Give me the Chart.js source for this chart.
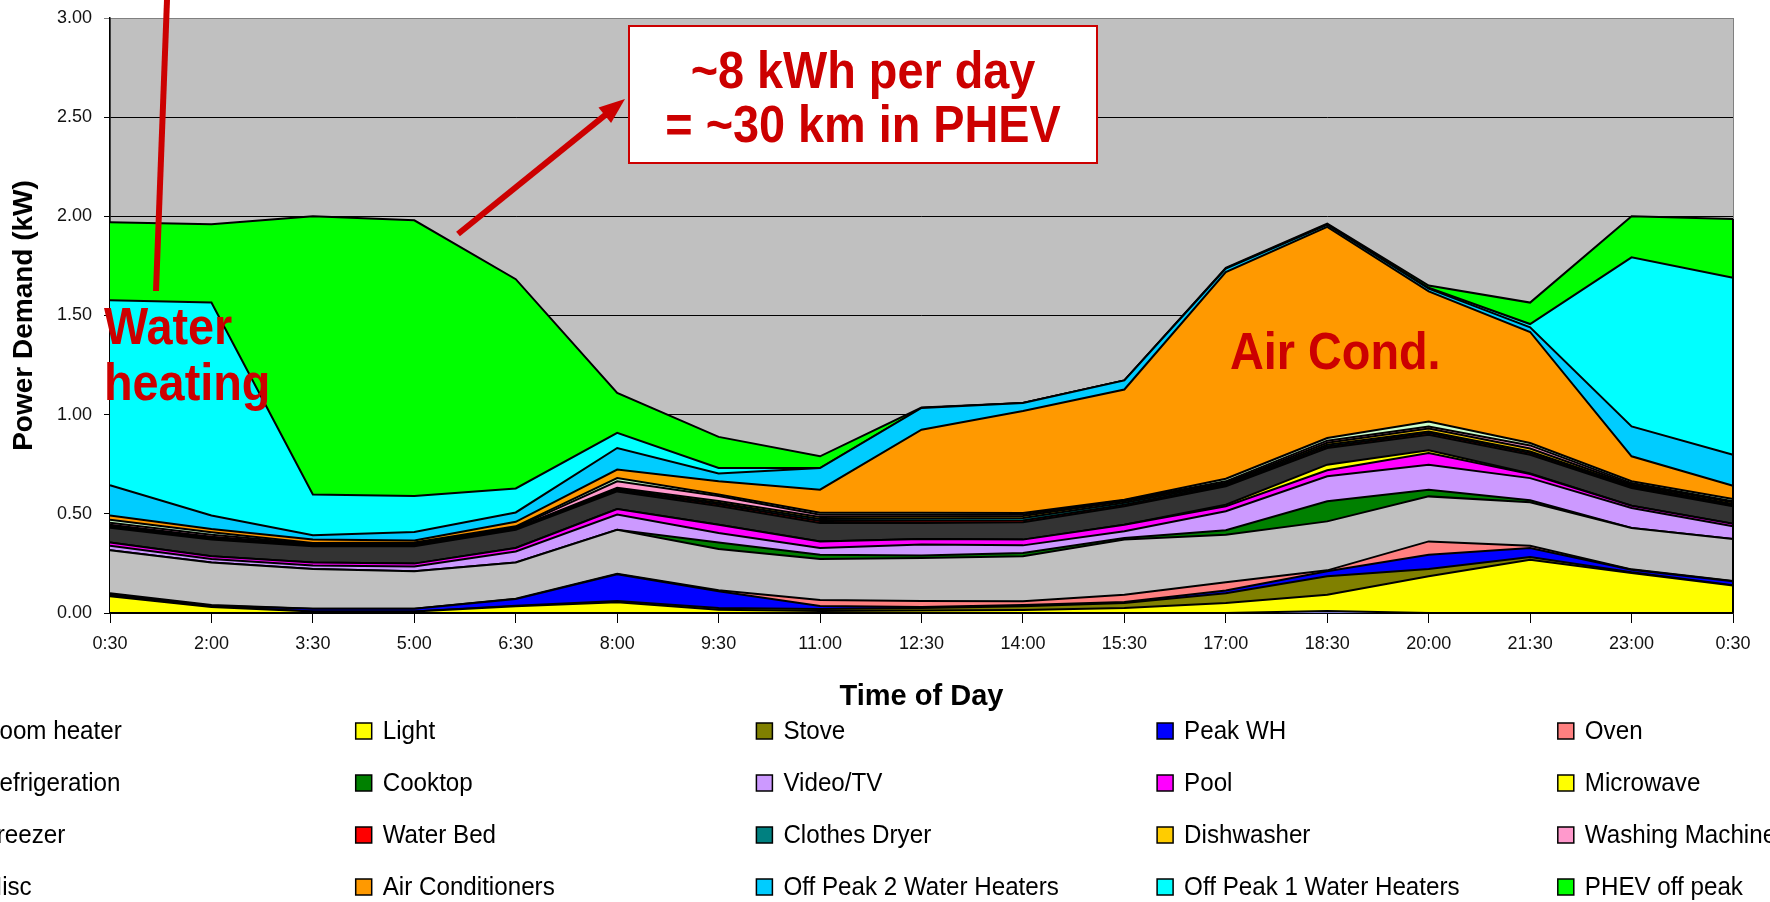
<!DOCTYPE html>
<html>
<head>
<meta charset="utf-8">
<script src="https://cdn.jsdelivr.net/npm/chart.js@4.4.1/dist/chart.umd.min.js"></script>
<style>
  html, body { margin: 0; padding: 0; background: #fff; }
  canvas { display: block; }
</style>
</head>
<body>
<canvas id="myChart" width="1770" height="902"></canvas>
<script>
// time of day (every 1.5 h)
const horas = ["0:30", "2:00", "3:30", "5:00", "6:30", "8:00", "9:30", "11:00", "12:30",
  "14:00", "15:30", "17:00", "18:30", "20:00", "21:30", "23:00", "0:30"];

const yTicks = [0, 0.5, 1.0, 1.5, 2.0, 2.5, 3.0];

// demand per appliance (kW), stacked bottom -> top
const roomHeater = [0, 0, 0, 0, 0, 0, 0, 0, 0, 0, 0, 0, 0.01, 0, 0, 0, 0];
const light = [0.085, 0.03, 0.008, 0.008, 0.034, 0.054, 0.017, 0.01, 0.012, 0.015, 0.025, 0.05, 0.082, 0.185, 0.269, 0.202, 0.138];
const stove = [0.005, 0.003, 0, 0, 0.002, 0.006, 0.008, 0.01, 0.013, 0.019, 0.025, 0.05, 0.093, 0.037, 0.013, 0.003, 0.002];
const peakWH = [0.005, 0.004, 0.014, 0.014, 0.034, 0.135, 0.085, 0.015, 0.005, 0.006, 0.005, 0.014, 0.025, 0.072, 0.046, 0.013, 0.02];
const oven = [0.005, 0.003, 0, 0, 0.002, 0.003, 0.005, 0.03, 0.03, 0.019, 0.037, 0.041, 0.005, 0.067, 0.011, 0.002, 0.002];
const refrigeration = [0.216, 0.215, 0.2, 0.188, 0.183, 0.222, 0.208, 0.207, 0.217, 0.227, 0.278, 0.24, 0.247, 0.227, 0.219, 0.209, 0.211];
const cooktop = [0, 0, 0, 0, 0, 0, 0.033, 0.022, 0.013, 0.017, 0.008, 0.022, 0.101, 0.034, 0.01, 0, 0];
const videoTV = [0.023, 0.017, 0.018, 0.025, 0.055, 0.076, 0.047, 0.034, 0.055, 0.038, 0.034, 0.096, 0.126, 0.126, 0.112, 0.1, 0.064];
const pool = [0.017, 0.014, 0.015, 0.014, 0.018, 0.028, 0.042, 0.033, 0.028, 0.029, 0.033, 0.025, 0.031, 0.059, 0.021, 0.012, 0.013];
const microwave = [0, 0, 0, 0, 0, 0, 0, 0, 0, 0, 0, 0.008, 0.028, 0.013, 0.002, 0, 0];
const freezer = [0.074, 0.084, 0.081, 0.087, 0.092, 0.089, 0.095, 0.093, 0.081, 0.087, 0.093, 0.093, 0.084, 0.079, 0.095, 0.089, 0.088];
const waterBed = [0.005, 0.005, 0.003, 0.004, 0.003, 0.006, 0.008, 0.01, 0.011, 0.01, 0.008, 0.006, 0.008, 0.008, 0.008, 0.006, 0.006];
const clothesDryer = [0.005, 0.005, 0.003, 0.004, 0.003, 0.006, 0.008, 0.01, 0.011, 0.012, 0.01, 0.006, 0.008, 0.008, 0.008, 0.006, 0.006];
const dishwasher = [0.005, 0.005, 0.003, 0.004, 0.003, 0.006, 0.009, 0.01, 0.011, 0.01, 0.008, 0.006, 0.01, 0.015, 0.015, 0.006, 0.008];
const washingMachine = [0.01, 0.01, 0.004, 0.004, 0.003, 0.033, 0.025, 0.012, 0.009, 0.008, 0.004, 0.007, 0.011, 0.01, 0.016, 0.007, 0.005];
const misc = [0.015, 0.012, 0.004, 0.004, 0.005, 0.016, 0.007, 0.009, 0.009, 0.007, 0.003, 0.013, 0.013, 0.026, 0.012, 0.009, 0.012];
const airConditioners = [0.022, 0.017, 0.017, 0.01, 0.023, 0.043, 0.067, 0.117, 0.419, 0.515, 0.556, 1.042, 1.065, 0.656, 0.56, 0.126, 0.067];
const offPeak2 = [0.152, 0.068, 0.022, 0.042, 0.047, 0.109, 0.039, 0.109, 0.11, 0.04, 0.046, 0.017, 0.01, 0.013, 0.023, 0.151, 0.156];
const offPeak1 = [0.933, 1.073, 0.206, 0.182, 0.121, 0.076, 0.028, 0, 0, 0, 0, 0, 0.003, 0.005, 0.017, 0.852, 0.892];
const phevOffPeak = [0.393, 0.395, 1.402, 1.39, 1.055, 0.202, 0.157, 0.059, 0.002, 0, 0, 0.004, 0.003, 0.011, 0.108, 0.207, 0.297];

const series = [
  ["Room heater", roomHeater, "#9999FF"],
  ["Light", light, "#FFFF00"],
  ["Stove", stove, "#808000"],
  ["Peak WH", peakWH, "#0000FF"],
  ["Oven", oven, "#FF8080"],
  ["Refrigeration", refrigeration, "#C0C0C0"],
  ["Cooktop", cooktop, "#008000"],
  ["Video/TV", videoTV, "#CC99FF"],
  ["Pool", pool, "#FF00FF"],
  ["Microwave", microwave, "#FFFF00"],
  ["Freezer", freezer, "#333333"],
  ["Water Bed", waterBed, "#FF0000"],
  ["Clothes Dryer", clothesDryer, "#008080"],
  ["Dishwasher", dishwasher, "#FFCC00"],
  ["Washing Machine", washingMachine, "#FF99CC"],
  ["Misc", misc, "#CCFFCC"],
  ["Air Conditioners", airConditioners, "#FF9900"],
  ["Off Peak 2 Water Heaters", offPeak2, "#00CCFF"],
  ["Off Peak 1 Water Heaters", offPeak1, "#00FFFF"],
  ["PHEV off peak", phevOffPeak, "#00FF00"],
];

const FONT = "'Liberation Sans', Arial, sans-serif";
const ROJO = "#CC0000";

// fondo gris del area de trazado
const plotBg = {
  id: "plotBg",
  beforeDraw(chart) {
    const { ctx, chartArea: a } = chart;
    ctx.save();
    ctx.fillStyle = "#C0C0C0";
    ctx.fillRect(a.left, a.top, a.right - a.left, a.bottom - a.top);
    ctx.strokeStyle = "#808080";
    ctx.lineWidth = 1;
    ctx.strokeRect(a.left + 0.5, a.top + 0.5, a.right - a.left, a.bottom - a.top);
    ctx.restore();
  },
  afterDatasetsDraw(chart) {
    // black right edge of the stacked areas
    const { ctx, chartArea: a, scales: { y } } = chart;
    const last = horas.length - 1;
    let total = 0;
    series.forEach((s) => (total += s[1][last]));
    ctx.save();
    ctx.strokeStyle = "#000";
    ctx.lineWidth = 2;
    ctx.beginPath();
    ctx.moveTo(a.right, y.getPixelForValue(total));
    ctx.lineTo(a.right, a.bottom);
    ctx.stroke();
    ctx.restore();
  },
};

// leyenda en 5 columnas x 4 filas (recortada a los lados como el original)
const legendGrid = {
  id: "legendGrid",
  afterDraw(chart) {
    const { ctx } = chart;
    const colX = -45, colStep = 400.7, rowY = 731, rowStep = 52;
    ctx.save();
    chart.data.datasets.forEach((ds, i) => {
      const col = i % 5;
      const row = Math.floor(i / 5);
      const x = colX + col * colStep;
      const yc = rowY + row * rowStep;
      ctx.fillStyle = ds.backgroundColor;
      ctx.fillRect(x, yc - 8, 16, 16);
      ctx.strokeStyle = "#000";
      ctx.lineWidth = 1.5;
      ctx.strokeRect(x, yc - 8, 16, 16);
      ctx.save();
      ctx.translate(x + 27, yc);
      ctx.scale(0.93, 1);
      ctx.fillStyle = "#000";
      ctx.font = "26px " + FONT;
      ctx.textBaseline = "middle";
      ctx.textAlign = "left";
      ctx.fillText(ds.label, 0, 1);
      ctx.restore();
    });
    ctx.restore();
  },
};

function textoComprimido(ctx, txt, x, y, align) {
  ctx.save();
  ctx.translate(x, y);
  ctx.scale(0.9, 1);
  ctx.textAlign = align;
  ctx.fillText(txt, 0, 0);
  ctx.restore();
}

// anotaciones rojas
const notas = {
  id: "notas",
  afterDraw(chart) {
    const { ctx } = chart;
    ctx.save();
    ctx.strokeStyle = ROJO;
    ctx.fillStyle = ROJO;
    ctx.lineCap = "butt";

    // linea hacia "Water heating"
    ctx.lineWidth = 6;
    ctx.beginPath();
    ctx.moveTo(167, 0);
    ctx.lineTo(156, 291);
    ctx.stroke();

    // flecha hacia el recuadro
    const x1 = 458, y1 = 234, x2 = 625, y2 = 99;
    const ang = Math.atan2(y2 - y1, x2 - x1);
    const head = 26;
    ctx.beginPath();
    ctx.moveTo(x1, y1);
    ctx.lineTo(x2 - head * 0.8 * Math.cos(ang), y2 - head * 0.8 * Math.sin(ang));
    ctx.stroke();
    ctx.beginPath();
    ctx.moveTo(x2, y2);
    ctx.lineTo(x2 - head * Math.cos(ang) + 10 * Math.sin(ang), y2 - head * Math.sin(ang) - 10 * Math.cos(ang));
    ctx.lineTo(x2 - head * Math.cos(ang) - 10 * Math.sin(ang), y2 - head * Math.sin(ang) + 10 * Math.cos(ang));
    ctx.closePath();
    ctx.fill();

    // recuadro
    ctx.fillStyle = "#fff";
    ctx.fillRect(629, 26, 468, 137);
    ctx.lineWidth = 2;
    ctx.strokeRect(629, 26, 468, 137);

    ctx.fillStyle = ROJO;
    ctx.font = "bold 52px " + FONT;
    ctx.textBaseline = "alphabetic";
    textoComprimido(ctx, "~8 kWh per day", 863, 88, "center");
    textoComprimido(ctx, "= ~30 km in PHEV", 863, 142, "center");

    textoComprimido(ctx, "Water", 104, 344, "left");
    textoComprimido(ctx, "heating", 104, 400, "left");
    textoComprimido(ctx, "Air Cond.", 1230, 369, "left");
    ctx.restore();
  },
};

const datasets = series.map(([label, data, color], i) => ({
  label,
  data,
  backgroundColor: color,
  borderColor: "#000",
  borderWidth: 2,
  fill: i === 0 ? "origin" : "-1",
  pointRadius: 0,
  pointHoverRadius: 0,
  tension: 0,
}));

const config = {
  type: "line",
  data: { labels: horas, datasets },
  options: {
    responsive: false,
    animation: false,
    events: [],
    layout: { padding: { top: 18, right: 37, left: 0, bottom: 0 } },
    plugins: {
      legend: { display: false },
      tooltip: { enabled: false },
      filler: { propagate: false },
    },
    scales: {
      x: {
        offset: false,
        grid: { display: true, drawOnChartArea: false, drawTicks: true, tickLength: 10, color: "#000", lineWidth: 1 },
        border: { display: true, color: "#000", width: 1.5 },
        ticks: { color: "#111", font: { family: FONT, size: 18 }, padding: 10, maxRotation: 0, autoSkip: false },
        title: { display: true, text: "Time of Day", color: "#000", font: { family: FONT, size: 29, weight: "bold" }, padding: { bottom: 188 } },
        afterFit(scale) {
          scale.height = 289;
          scale.paddingLeft = 0;
          scale.paddingRight = 0;
        },
      },
      y: {
        stacked: true,
        min: 0,
        max: 3,
        afterBuildTicks(scale) { scale.ticks = yTicks.map((v) => ({ value: v })); },
        grid: {
          color: (c) => (c.tick && c.tick.value === 3 ? "#808080" : "#000"),
          lineWidth: 1,
          tickLength: 6,
        },
        border: { display: true, color: "#000", width: 1.5 },
        ticks: {
          color: "#111",
          font: { family: FONT, size: 18 },
          padding: 12,
          callback: (v) => Number(v).toFixed(2),
        },
        title: { display: true, text: "Power Demand (kW)", color: "#000", font: { family: FONT, size: 28, weight: "bold" }, padding: { top: 7 } },
        afterFit(scale) {
          scale.width = 110;
          scale.paddingTop = 0;
          scale.paddingBottom = 0;
        },
      },
    },
  },
  plugins: [plotBg, legendGrid, notas],
};

const ctx = document.getElementById("myChart");
const existingChart = Chart.getChart(ctx);
if (existingChart) existingChart.destroy();
new Chart(ctx, config);
</script>
</body>
</html>
